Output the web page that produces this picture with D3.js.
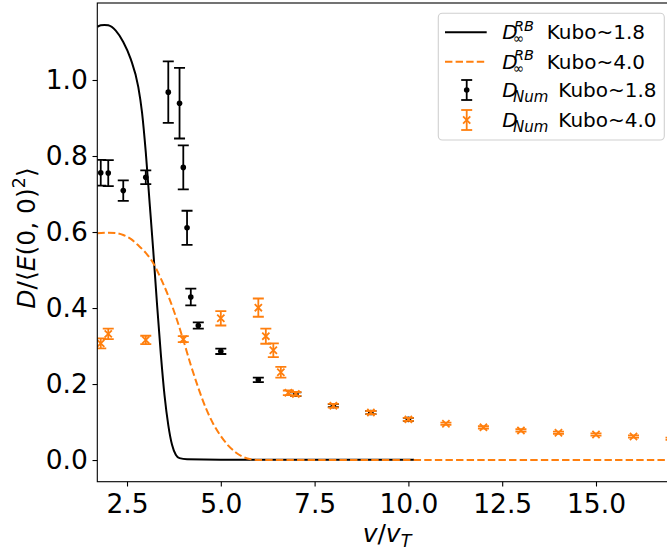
<!DOCTYPE html>
<html>
<head>
<meta charset="utf-8">
<script src="https://cdn.jsdelivr.net/npm/d3@7"></script>
<style>
  body { margin: 0; background: #fff; }
  text { font-family: "DejaVu Sans", sans-serif; }
</style>
</head>
<body>
<div id="chart"></div>
<script>
// analytic curves
let rbX1 = [1.71, 1.8, 1.9, 2.0, 2.2, 2.4, 2.6, 2.8, 2.9, 3.0, 3.1, 3.2, 3.3, 3.4, 3.5, 3.6, 3.7, 3.8, 3.9, 4.1, 5.0, 10.15];
let rbY1 = [1.140, 1.144, 1.145, 1.144, 1.130, 1.100, 1.055, 0.982, 0.915, 0.810, 0.680, 0.550, 0.410, 0.280, 0.170, 0.092, 0.040, 0.014, 0.005, 0.002, 0.001, 0.001];

let rbX2 = [1.71, 2.0, 2.2, 2.4, 2.6, 2.8, 3.0, 3.2, 3.4, 3.6, 3.8, 4.0, 4.2, 4.4, 4.6, 4.8, 5.0, 5.2, 5.4, 5.6, 5.8, 6.0, 17.5];
let rbY2 = [0.597, 0.598, 0.597, 0.592, 0.582, 0.565, 0.545, 0.518, 0.478, 0.432, 0.378, 0.316, 0.250, 0.190, 0.137, 0.095, 0.063, 0.038, 0.020, 0.008, 0.002, 0.0, 0.0];

// numerical points with error bars
let numX1 = [1.8, 2.0, 2.4, 3.0, 3.6, 3.9, 4.0, 4.1, 4.2, 4.4, 5, 6, 7, 8, 9, 10];
let numY1 = [0.756, 0.755, 0.709, 0.744, 0.968, 0.939, 0.770, 0.611, 0.429, 0.354, 0.286, 0.211, 0.173, 0.143, 0.125, 0.107];
let numE1 = [0.034, 0.034, 0.027, 0.018, 0.081, 0.093, 0.058, 0.045, 0.022, 0.008, 0.007, 0.006, 0.005, 0.004, 0.004, 0.004];

let numX2 = [1.8, 2.0, 3.0, 4.0, 5.0, 6.0, 6.2, 6.4, 6.6, 6.8, 7.0, 8, 9, 10, 11, 12, 13, 14, 15, 16, 17];
let numY2 = [0.307, 0.332, 0.316, 0.318, 0.373, 0.401, 0.326, 0.289, 0.231, 0.177, 0.174, 0.143, 0.125, 0.107, 0.0955, 0.086, 0.078, 0.072, 0.067, 0.062, 0.056];
let numE2 = [0.013, 0.014, 0.011, 0.008, 0.019, 0.024, 0.020, 0.018, 0.014, 0.006, 0.005, 0.005, 0.004, 0.004, 0.003, 0.003, 0.003, 0.003, 0.003, 0.003, 0.003];

let xTicks = [2.5, 5, 7.5, 10, 12.5, 15];
let yTicks = [0, 0.2, 0.4, 0.6, 0.8, 1.0];

let black = "#000000";
let orange = "#ff7f0e";

let pLeft = 97.3, pRight = 675, pTop = 3, pBottom = 481.7;

let svg = d3.select("#chart")
    .append("svg")
    .attr("width", 667)
    .attr("height", 554);

let x = d3.scaleLinear().domain([1.708, 17.106]).range([pLeft, pRight]);
let y = d3.scaleLinear().domain([-0.057, 1.2026]).range([pBottom, pTop]);

svg.append("clipPath")
    .attr("id", "plotclip")
    .append("rect")
    .attr("x", pLeft)
    .attr("y", pTop)
    .attr("width", pRight - pLeft)
    .attr("height", pBottom - pTop);

let plot = svg.append("g").attr("clip-path", "url(#plotclip)");

let line = d3.line()
    .x(d => x(d[0]))
    .y(d => y(d[1]))
    .curve(d3.curveMonotoneX);

plot.append("path")
    .datum(d3.zip(rbX1, rbY1))
    .attr("d", line)
    .attr("fill", "none")
    .attr("stroke", black)
    .attr("stroke-width", 2);

plot.append("path")
    .datum(d3.zip(rbX2, rbY2))
    .attr("d", line)
    .attr("fill", "none")
    .attr("stroke", orange)
    .attr("stroke-width", 2)
    .attr("stroke-dasharray", "7.4,3.2");

function errorbars(g, xs, ys, es, color, marker) {
    let pts = d3.zip(xs, ys, es);
    let grp = g.append("g");
    grp.selectAll(null)
        .data(pts)
        .join("line")
        .attr("x1", d => x(d[0]))
        .attr("x2", d => x(d[0]))
        .attr("y1", d => y(d[1] - d[2]))
        .attr("y2", d => y(d[1] + d[2]))
        .attr("stroke", color)
        .attr("stroke-width", 1.8);
    [-1, 1].forEach(s => {
        grp.selectAll(null)
            .data(pts)
            .join("line")
            .attr("x1", d => x(d[0]) - 5.5)
            .attr("x2", d => x(d[0]) + 5.5)
            .attr("y1", d => y(d[1] + s * d[2]))
            .attr("y2", d => y(d[1] + s * d[2]))
            .attr("stroke", color)
            .attr("stroke-width", 1.8);
    });
    if (marker == "o") {
        grp.selectAll("circle")
            .data(pts)
            .join("circle")
            .attr("cx", d => x(d[0]))
            .attr("cy", d => y(d[1]))
            .attr("r", 2.8)
            .attr("fill", color);
    } else {
        grp.selectAll("path")
            .data(pts)
            .join("path")
            .attr("d", d => {
                let cx = x(d[0]), cy = y(d[1]), r = 3.6;
                return `M${cx - r},${cy - r}L${cx + r},${cy + r}M${cx - r},${cy + r}L${cx + r},${cy - r}`;
            })
            .attr("stroke", color)
            .attr("stroke-width", 1.8);
    }
}

errorbars(plot, numX1, numY1, numE1, black, "o");
errorbars(plot, numX2, numY2, numE2, orange, "x");

// axes
let xAxis = svg.append("g")
    .attr("transform", `translate(0,${pBottom})`)
    .call(d3.axisBottom(x).tickValues(xTicks).tickFormat(d3.format(".1f")).tickSize(4.8).tickPadding(7.5));

let yAxis = svg.append("g")
    .attr("transform", `translate(${pLeft},0)`)
    .call(d3.axisLeft(y).tickValues(yTicks).tickFormat(d3.format(".1f")).tickSize(4.8).tickPadding(4.7));

[xAxis, yAxis].forEach(a => {
    a.select(".domain").remove();
    a.selectAll("text").attr("font-size", 26.5).attr("fill", "#000").style("font-family", "DejaVu Sans");
    a.selectAll("line").attr("stroke", "#000").attr("stroke-width", 1.1);
});

svg.append("rect")
    .attr("x", pLeft)
    .attr("y", pTop)
    .attr("width", pRight - pLeft)
    .attr("height", pBottom - pTop)
    .attr("fill", "none")
    .attr("stroke", "#000")
    .attr("stroke-width", 1.1);

// axis labels
let xl = svg.append("text")
    .attr("x", 387)
    .attr("y", 541.7)
    .attr("text-anchor", "middle")
    .attr("font-size", 25);
xl.append("tspan").attr("font-style", "italic").text("v");
xl.append("tspan").text("/");
xl.append("tspan").attr("font-style", "italic").text("v");
xl.append("tspan").attr("font-style", "italic").attr("font-size", 17.5).attr("dy", 5).text("T");

let yl = svg.append("text")
    .attr("transform", "translate(35,238) rotate(-90)")
    .attr("text-anchor", "middle")
    .attr("font-size", 25);
yl.append("tspan").attr("font-style", "italic").text("D");
yl.append("tspan").text("/\u27E8");
yl.append("tspan").attr("font-style", "italic").text("E");
yl.append("tspan").text("(0, 0)");
yl.append("tspan").attr("font-size", 17.5).attr("dy", -10).text("2");
yl.append("tspan").attr("dy", 10).text("\u27E9");

// legend
let legend = svg.append("g");
legend.append("rect")
    .attr("x", 438.3)
    .attr("y", 13.3)
    .attr("width", 226)
    .attr("height", 126.7)
    .attr("rx", 4)
    .attr("fill", "#fff")
    .attr("fill-opacity", 0.8)
    .attr("stroke", "#d0d0d0")
    .attr("stroke-width", 1.1);

let rows = [32.3, 61.7, 90, 120];
let labels = ["Kubo~1.8", "Kubo~4.0", "Kubo~1.8", "Kubo~4.0"];

legend.append("line")
    .attr("x1", 445).attr("x2", 486.7)
    .attr("y1", rows[0]).attr("y2", rows[0])
    .attr("stroke", black).attr("stroke-width", 2);
legend.append("line")
    .attr("x1", 445).attr("x2", 486.7)
    .attr("y1", rows[1]).attr("y2", rows[1])
    .attr("stroke", orange).attr("stroke-width", 2)
    .attr("stroke-dasharray", "7.4,3.2");

[[rows[2], black], [rows[3], orange]].forEach(([cy, c], i) => {
    let g = legend.append("g");
    g.append("line").attr("x1", 466.7).attr("x2", 466.7).attr("y1", cy - 10).attr("y2", cy + 10)
        .attr("stroke", c).attr("stroke-width", 1.8);
    [-10, 10].forEach(o => g.append("line").attr("x1", 461.2).attr("x2", 472.2).attr("y1", cy + o).attr("y2", cy + o)
        .attr("stroke", c).attr("stroke-width", 1.8));
    if (i == 0) {
        g.append("circle").attr("cx", 466.7).attr("cy", cy).attr("r", 2.8).attr("fill", c);
    } else {
        g.append("path").attr("d", `M463.1,${cy - 3.6}L470.3,${cy + 3.6}M463.1,${cy + 3.6}L470.3,${cy - 3.6}`)
            .attr("stroke", c).attr("stroke-width", 1.8);
    }
});

// one text element per row, math parts as tspans
rows.forEach((cy, i) => {
    let base = cy + 7;
    let t = legend.append("text").attr("x", 502.3).attr("y", base).attr("font-size", 20);
    t.append("tspan").attr("font-style", "italic").text("D");
    if (i < 2) {
        t.append("tspan").attr("x", 514).attr("dy", -8.5).attr("font-size", 14.5)
            .attr("font-style", "italic").text("RB");
        t.append("tspan").attr("x", 513).attr("dy", 12.5).attr("font-size", 13.5).text("\u221E");
        t.append("tspan").attr("x", 546.7).attr("dy", -4).text(labels[i]);
    } else {
        t.append("tspan").attr("x", 513).attr("dy", 4.5).attr("font-size", 15)
            .attr("font-style", "italic").text("Num");
        t.append("tspan").attr("x", 558.3).attr("dy", -4.5).text(labels[i]);
    }
});
</script>
</body>
</html>
